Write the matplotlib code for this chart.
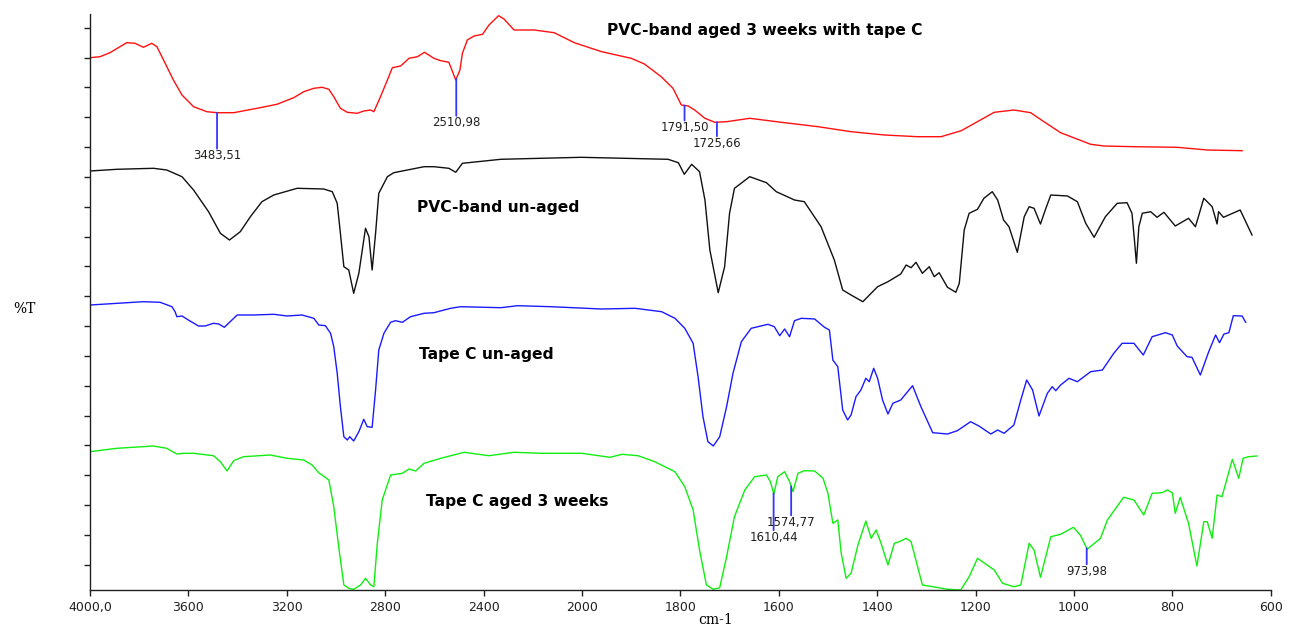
import numpy as np
import matplotlib
matplotlib.use('Agg')
import matplotlib.pyplot as plt

# wavenumbers (cm-1) and stacked %T (arbitrary offset units)
red_wn = [4000, 3959, 3919, 3851, 3817, 3783, 3749, 3728, 3701, 3661,
          3626, 3579, 3525, 3484, 3416, 3321, 3240, 3172, 3131, 3090,
          3056, 3029, 3009, 2982, 2954, 2914, 2887, 2859, 2846, 2819,
          2791, 2771, 2737, 2703, 2669, 2640, 2602, 2574, 2541, 2513,
          2496, 2486, 2466, 2439, 2404, 2378, 2339, 2317, 2276, 2194,
          2113, 2031, 1960, 1900, 1873, 1839, 1815, 1798, 1784, 1771,
          1750, 1730, 1706, 1659, 1588, 1520, 1453, 1385, 1318, 1270,
          1229, 1162, 1122, 1088, 1061, 1027, 966, 939, 878, 790,
          729, 658]
red_t = [532.3, 533.3, 537.3, 547.3, 546.7, 542.7, 546.7, 543.3, 530, 510,
         495, 483.3, 478.3, 477.3, 477.3, 481.7, 485.7, 492.3, 498.3, 501.7,
         502.7, 500.7, 493.3, 481.7, 477.7, 476.7, 479, 480, 478.3, 493.3,
         510, 522.3, 524, 531.7, 533.3, 537.7, 531.7, 529.3, 527.7, 510,
         520, 536.7, 550, 554, 555.7, 565, 574.3, 571, 560, 560,
         557.3, 547.3, 538.3, 531.7, 526, 513.3, 501.7, 485, 484, 480,
         471.7, 467.7, 468.3, 471.7, 467.3, 463.3, 458.3, 455, 453.3, 453.3,
         459.3, 477.7, 480, 477.3, 468.3, 457.3, 445.7, 444, 443.3, 442.7,
         440, 439.3]

black_wn = [4000, 3891, 3742, 3688, 3626, 3579, 3518, 3470, 3433, 3389,
            3348, 3301, 3253, 3158, 3050, 3015, 2995, 2982, 2968, 2948,
            2928, 2907, 2880, 2866, 2853, 2839, 2826, 2791, 2765, 2642,
            2602, 2541, 2513, 2486, 2330, 2004, 1825, 1804, 1792, 1777,
            1761, 1750, 1740, 1723, 1710, 1700, 1690, 1659, 1625, 1605,
            1568, 1548, 1514, 1487, 1470, 1453, 1429, 1399, 1378, 1352,
            1341, 1331, 1321, 1308, 1294, 1284, 1274, 1257, 1240, 1233,
            1223, 1213, 1196, 1183, 1166, 1155, 1143, 1132, 1115, 1101,
            1091, 1081, 1068, 1057, 1047, 1013, 993, 976, 959, 936,
            912, 892, 882, 877, 873, 868, 861, 844, 831, 817,
            794, 767, 753, 736, 719, 709, 706, 696, 662, 638]
black_t = [419, 420.7, 421.7, 420, 413.3, 400, 378.3, 356.7, 350, 358.3,
           373.3, 388.3, 395, 401.7, 401, 398.3, 386.7, 356.7, 323.3, 320,
           296.7, 316.7, 361.7, 353.3, 320, 356.7, 396.7, 413.3, 417.3, 423.3,
           423.3, 421.7, 417.7, 426.7, 430.7, 432.7, 430.7, 427.3, 415.7, 425.7,
           418.3, 390, 340, 297.3, 323.3, 376.7, 401.7, 413.3, 407.3, 398.3,
           390, 388.3, 363.3, 330, 300, 295, 288.3, 303.3, 308.3, 316,
           325, 322.3, 327.7, 316.7, 323.3, 313.3, 317.3, 302.7, 297.7, 306.7,
           360, 376.7, 380.7, 391.7, 398.3, 390, 370, 363.3, 337.7, 373.3,
           383.3, 381.7, 366, 381.7, 395, 394, 388.3, 366.7, 352.7, 373.3,
           386.7, 387.3, 376.7, 350, 326.7, 363.3, 376.7, 378.3, 372.7, 377.7,
           364, 371.7, 363.3, 391.7, 383.3, 366, 378.3, 372.7, 380, 355]

blue_wn = [4000, 3891, 3783, 3715, 3667, 3654, 3647, 3626, 3600, 3559,
           3532, 3498, 3477, 3454, 3430, 3402, 3335, 3253, 3199, 3138,
           3090, 3070, 3043, 3022, 3009, 2995, 2982, 2968, 2954, 2944,
           2928, 2907, 2887, 2873, 2853, 2839, 2826, 2805, 2778, 2758,
           2730, 2697, 2642, 2602, 2534, 2493, 2330, 2262, 2126, 1960,
           1892, 1838, 1811, 1791, 1774, 1764, 1754, 1744, 1733, 1720,
           1706, 1693, 1676, 1656, 1622, 1609, 1598, 1588, 1578, 1568,
           1554, 1527, 1507, 1497, 1490, 1480, 1470, 1460, 1453, 1443,
           1433, 1423, 1416, 1407, 1399, 1389, 1378, 1368, 1352, 1328,
           1311, 1287, 1257, 1237, 1210, 1193, 1169, 1155, 1142, 1122,
           1108, 1096, 1084, 1071, 1054, 1044, 1037, 1027, 1010, 993,
           966, 942, 919, 902, 878, 859, 841, 814, 800, 790,
           770, 760, 743, 726, 712, 704, 695, 685, 676, 658,
           651]
blue_t = [285, 286.7, 288.3, 287.7, 283.3, 278.3, 273.3, 274, 270, 264,
          264, 266.7, 266, 262.7, 268.3, 275, 275, 275.7, 274, 275,
          271.7, 265, 264.3, 256.7, 243.3, 216.7, 183.3, 153.3, 150, 153.3,
          149, 158.3, 170.7, 163.3, 162.7, 200, 240, 256.7, 267.7, 269.3,
          267.7, 273.3, 276.7, 277.3, 281.7, 283.3, 282.3, 284.3, 283.3, 281,
          281.7, 278.3, 271.7, 261.7, 246.7, 213.3, 173.3, 148.3, 144, 153.3,
          183.3, 216.7, 248.3, 261.7, 265.7, 263.3, 254.3, 261, 253.3, 269.3,
          271.7, 271, 262.7, 260, 230, 223.3, 180, 170, 175, 193.3,
          200, 211.7, 208.3, 221.7, 211.7, 190, 176, 186.7, 190, 204.3,
          183.3, 157.3, 156, 159.3, 168.3, 164, 156, 160, 156.7, 165,
          190, 210, 200, 174, 196.7, 203.3, 199.3, 205, 211.7, 208.3,
          218.3, 220, 236.7, 246.7, 246.7, 235, 253.3, 257.3, 255, 244,
          233.3, 232.7, 215, 238.3, 255, 247.3, 256, 257.3, 274.3, 274,
          267.7]

green_wn = [4000, 3891, 3742, 3688, 3647, 3620, 3579, 3498, 3470, 3443,
            3416, 3376, 3267, 3199, 3131, 3097, 3070, 3029, 3009, 2989,
            2968, 2948, 2928, 2900, 2880, 2859, 2846, 2832, 2812, 2778,
            2730, 2703, 2676, 2642, 2574, 2479, 2378, 2276, 2167, 2001,
            1943, 1919, 1886, 1852, 1811, 1791, 1774, 1761, 1747, 1733,
            1720, 1706, 1690, 1669, 1649, 1625, 1617, 1610, 1602, 1588,
            1578, 1571, 1561, 1548, 1527, 1510, 1500, 1490, 1480, 1473,
            1463, 1453, 1439, 1423, 1412, 1402, 1392, 1378, 1365, 1355,
            1341, 1331, 1308, 1287, 1257, 1230, 1213, 1196, 1162, 1145,
            1122, 1108, 1091, 1081, 1068, 1047, 1027, 1001, 987, 973,
            946, 932, 899, 878, 858, 841, 821, 810, 800, 794,
            784, 767, 750, 736, 729, 719, 709, 699, 678, 665,
            656, 645, 628]
green_t = [138.3, 141.7, 144, 141.7, 136, 136.7, 136.7, 134.3, 128.3, 119,
           129.3, 133.3, 135, 131.7, 130, 125, 117.3, 110, 83.3, 43.3,
           5, 1.7, 0.7, 5, 11.7, 5, 3.3, 46.7, 90, 115,
           116.7, 121, 119, 126.7, 131.7, 137.7, 134.3, 137.7, 136.7, 136.7,
           132.7, 135.7, 134.3, 128.3, 118.3, 103.3, 80, 40, 5, 0.7,
           2.3, 33.3, 73.3, 100, 113.3, 115, 108.3, 96, 113.3, 118.3,
           108.3, 98.3, 116.7, 119.3, 119, 111.7, 96.7, 66.7, 70, 36.7,
           11.7, 16.7, 45, 69, 51.7, 60, 46.7, 25, 46.7, 48.3,
           51.7, 48.3, 5, 3.3, 0.7, 0, 13.3, 31.7, 20, 6.7,
           3.3, 5, 46.7, 40, 12.7, 53.3, 55.7, 62.7, 55, 40.7,
           51.7, 70, 92.7, 90, 75, 96.7, 97.3, 100, 97.3, 76.7,
           92.7, 66.7, 24, 68.3, 68.3, 51.7, 95, 93.3, 130.7, 111.7,
           131.7, 133.3, 134]

xticks = [4000, 3600, 3200, 2800, 2400, 2000, 1800, 1600, 1400, 1200, 1000, 800, 600]
xticklabels = ['4000,0', '3600', '3200', '2800', '2400', '2000', '1800',
               '1600', '1400', '1200', '1000', '800', '600']

red_peaks = [(3483.51, '3483,51'), (2510.98, '2510,98'),
             (1791.50, '1791,50'), (1725.66, '1725,66')]
green_peaks = [(1610.44, '1610,44'), (1574.77, '1574,77'), (973.98, '973,98')]


# instrument-style axis: scale doubles below 2000 cm-1
def fwd(w):
    w = np.asarray(w, dtype=float)
    return np.where(w >= 2000, w, 2 * w - 2000)


def inv(v):
    v = np.asarray(v, dtype=float)
    return np.where(v >= 2000, v, (v + 2000) / 2)


fig = plt.figure(figsize=(12.94, 6.26), dpi=100)
ax = fig.add_axes([90 / 1294, 36 / 626, 1180.7 / 1294, 576 / 626])
ax.set_xscale('function', functions=(fwd, inv))
ax.set_xlim(4000, 600)
ax.set_ylim(0, 576)

ax.plot(red_wn, red_t, color='#ff1010', lw=1.0)
ax.plot(black_wn, black_t, color='#101010', lw=1.0)
ax.plot(blue_wn, blue_t, color='#1a1aff', lw=1.0)
ax.plot(green_wn, green_t, color='#10ee10', lw=1.0)

# peak markers: (length of the blue tick in px)
marker_len = {'3483,51': 36, '2510,98': 37, '1791,50': 15, '1725,66': 14,
              '1610,44': 37, '1574,77': 29, '973,98': 16}


def mark(wn, t, w, label):
    y = np.interp(w, wn[::-1], t[::-1])
    L = marker_len[label]
    ax.annotate('', xy=(w, y), xytext=(0, -L * 0.72), textcoords='offset points',
                arrowprops=dict(arrowstyle='-', color='#3535ff', lw=1.3,
                                shrinkA=0, shrinkB=0))
    ax.annotate(label, xy=(w, y), xytext=(0, -(L + 7) * 0.72),
                textcoords='offset points', ha='center', va='center',
                fontsize=8.5, color='#202020')


for w, lab in red_peaks:
    mark(red_wn, red_t, w, lab)
for w, lab in green_peaks:
    mark(green_wn, green_t, w, lab)

# trace titles
ax.text(0.4376, 0.972, 'PVC-band aged 3 weeks with tape C', transform=ax.transAxes,
        fontsize=11.2, fontweight='bold', va='center', ha='left')
ax.text(0.2767, 0.6637, 'PVC-band un-aged', transform=ax.transAxes,
        fontsize=11.2, fontweight='bold', va='center', ha='left')
ax.text(0.2789, 0.4097, 'Tape C un-aged', transform=ax.transAxes,
        fontsize=11.2, fontweight='bold', va='center', ha='left')
ax.text(0.2846, 0.1533, 'Tape C aged 3 weeks', transform=ax.transAxes,
        fontsize=11.2, fontweight='bold', va='center', ha='left')

ax.set_xticks(xticks)
ax.set_xticklabels(xticklabels, fontsize=9)
ax.set_yticks(25.3 + 29.83 * np.arange(19))
ax.set_yticklabels([])
ax.tick_params(axis='x', length=4, width=1, pad=4, colors='#202020')
ax.tick_params(axis='y', length=4, width=1, colors='#202020')
ax.minorticks_off()
for s in ['top', 'right']:
    ax.spines[s].set_visible(False)
for s in ['left', 'bottom']:
    ax.spines[s].set_color('#202020')
    ax.spines[s].set_linewidth(1.0)

fig.text(24.5 / 1294, 317 / 626, '%T', family='DejaVu Serif', fontsize=10,
         ha='center', va='center')
fig.text(716 / 1294, 6 / 626, 'cm-1', family='DejaVu Serif', fontsize=10,
         ha='center', va='center')

fig.savefig('out.png', dpi=100)
